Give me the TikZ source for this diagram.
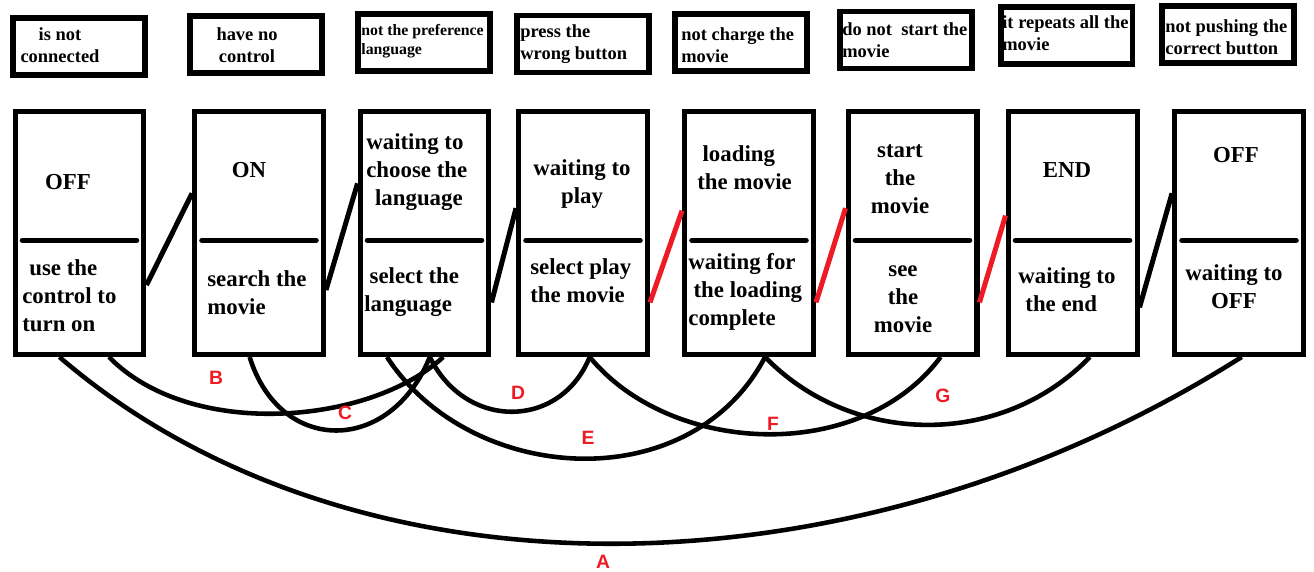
\documentclass[tikz,border=0pt]{standalone}
\usepackage{fontspec}
\setmainfont{Liberation Serif}
\newfontfamily\letterfont{Liberation Sans}
\usetikzlibrary{calc}
\definecolor{paintred}{RGB}{237, 28, 36}
\tikzset{
    statebox/.style={draw, line width=2.85pt, minimum width=2.58cm,
        minimum height=4.86cm, inner sep=0pt},
    faultbox/.style={draw, line width=3.4pt, minimum width=2.64cm,
        minimum height=1.14cm, inner sep=0pt},
    divider/.style={line width=3.2pt, line cap=round, shorten <=.2cm,
        shorten >=.2cm},
    link/.style={line width=2.85pt},
    redlink/.style={link, paintred},
    curve/.style={line width=2.6pt},
    statetext/.style={inner sep=0pt, align=center,
        font=\fontsize{13}{15.9}\selectfont\bfseries},
    acttext/.style={inner sep=0pt, align=left, anchor=west,
        font=\fontsize{13}{15.9}\selectfont\bfseries},
    faulttext/.style={inner sep=0pt, align=left, anchor=west,
        font=\fontsize{10.5}{12.6}\selectfont\bfseries},
    letter/.style={inner sep=0pt, text=paintred,
        font=\letterfont\bfseries\fontsize{11}{13}\selectfont},
}

\begin{document}
\begin{tikzpicture}[x=.02cm, y=-.02cm]
    \useasboundingbox (0, 0) rectangle (1314, 571);
    % what goes wrong
    \node[faultbox] (noconn) at (79, 46.5) {};
    \node[faultbox] (noctrl) at (256, 44.5) {};
    \node[faultbox] (nolang) at (424, 42.5) {};
    \node[faultbox] (wrongbtn) at (583, 44) {};
    \node[faultbox] (nocharge) at (741, 42.5) {};
    \node[faultbox] (nostart) at (906, 40) {};
    \node[faultbox] (repeats) at (1066.5, 35.5) {};
    \node[faultbox] (nopush) at (1228, 34.5) {};
    \node[faulttext, anchor=center, align=center] (noconntxt) at (60, 45)
        {is not\\connected};
    \node[faulttext, anchor=center, align=center] (noctrltxt) at (247, 45)
        {have no\\control};
    \node[faulttext, font=\fontsize{9}{10.8}\selectfont\bfseries] (nolangtxt)
        at (361, 41.5) {not the preference\\language};
    \node[faulttext] (wrongbtntxt) at (520, 44) {press the\\wrong button};
    \node[faulttext] (nochargetxt) at (681, 45) {not charge the\\movie};
    \node[faulttext] (nostarttxt) at (842, 40) {do not\ \ start the\\movie};
    \node[faulttext] (repeatstxt) at (1002, 33) {it repeats all the\\movie};
    \node[faulttext] (nopushtxt) at (1165, 37) {not pushing the\\correct button};
    % states
    \node[statebox] (off) at (79.5, 233) {};
    \node[statebox] (on) at (259, 233) {};
    \node[statebox] (lang) at (424.5, 233) {};
    \node[statebox] (play) at (583, 233) {};
    \node[statebox] (load) at (749, 233) {};
    \node[statebox] (start) at (912.5, 233) {};
    \node[statebox] (finish) at (1072.5, 233) {};
    \node[statebox] (offend) at (1239, 233) {};
    \foreach \s in {off, on, lang, play, load, start, finish, offend}
        \draw[divider] ($(\s.north west)!.53!(\s.south west)$)
            -- ($(\s.north east)!.53!(\s.south east)$);
    \node[statetext] (offname) at (68, 182) {OFF};
    \node[acttext] (offact) at (22, 296) {\hspace{4pt}use the\\control to\\turn on};
    \node[statetext] (onname) at (249, 170) {ON};
    \node[acttext] (onact) at (207, 293) {search the\\movie};
    \node[acttext] (langname) at (366, 172)
        {waiting to\\choose the\\\hspace{5pt}language};
    \node[acttext] (langact) at (364, 292) {\hspace{3pt}select the\\language};
    \node[statetext] (playname) at (582, 184.5) {waiting to\\play};
    \node[acttext] (playact) at (530, 281) {select play\\the movie};
    \node[acttext] (loadname) at (697, 167.5) {\hspace{3pt}loading\\the movie};
    \node[acttext] (loadact) at (688, 292)
        {waiting for\\\hspace{3pt}the loading\\complete};
    \node[statetext] (startname) at (900, 179) {start\\the\\movie};
    \node[statetext] (startact) at (903, 299) {see\\the\\movie};
    \node[statetext] (finishname) at (1067, 170) {END};
    \node[acttext] (finishact) at (1018, 290) {waiting to\\\hspace{4pt}the end};
    \node[statetext] (offendname) at (1236, 155) {OFF};
    \node[statetext] (offendact) at (1234, 286.5) {waiting to\\OFF};
    % steps
    \draw[link] ($(off.north east)!.71!(off.south east)$)
        -- ($(on.north west)!.34!(on.south west)$);
    \draw[link] ($(on.north east)!.73!(on.south east)$)
        -- ($(lang.north west)!.30!(lang.south west)$);
    \draw[link] ($(lang.north east)!.78!(lang.south east)$)
        -- ($(play.north west)!.40!(play.south west)$);
    \draw[redlink] ($(play.north east)!.78!(play.south east)$)
        -- ($(load.north west)!.41!(load.south west)$);
    \draw[redlink] ($(load.north east)!.78!(load.south east)$)
        -- ($(start.north west)!.40!(start.south west)$);
    \draw[redlink] ($(start.north east)!.78!(start.south east)$)
        -- ($(finish.north west)!.43!(finish.south west)$);
    \draw[link] ($(finish.north east)!.80!(finish.south east)$)
        -- ($(offend.north west)!.34!(offend.south west)$);
    % failures
    \draw[curve] ($(off.south west)!.35!(off.south east)$)
        .. controls (350, 607) and (850, 605) ..
        ($(offend.south west)!.52!(offend.south east)$);
    \draw[curve] ($(off.south west)!.72!(off.south east)$)
        .. controls (190, 440) and (370, 425) ..
        ($(lang.south west)!.64!(lang.south east)$);
    \draw[curve] ($(on.south west)!.43!(on.south east)$)
        .. controls (280, 455) and (390, 455) ..
        ($(lang.south west)!.54!(lang.south east)$);
    \draw[curve] ($(lang.south west)!.54!(lang.south east)$)
        .. controls (465, 430) and (560, 430) ..
        ($(play.south west)!.55!(play.south east)$);
    \draw[curve] ($(lang.south west)!.22!(lang.south east)$)
        .. controls (470, 485) and (690, 500) ..
        ($(load.south west)!.62!(load.south east)$);
    \draw[curve] ($(play.south west)!.55!(play.south east)$)
        .. controls (670, 455) and (860, 465) ..
        ($(start.south west)!.71!(start.south east)$);
    \draw[curve] ($(load.south west)!.62!(load.south east)$)
        .. controls (850, 445) and (1000, 450) ..
        ($(finish.south west)!.63!(finish.south east)$);
    \node[letter] (labA) at (603, 562) {A};
    \node[letter] (labB) at (216, 378) {B};
    \node[letter] (labC) at (345, 413) {C};
    \node[letter] (labD) at (518, 393) {D};
    \node[letter] (labE) at (588, 438) {E};
    \node[letter] (labF) at (773, 424) {F};
    \node[letter] (labG) at (943, 396) {G};
\end{tikzpicture}
\end{document}
